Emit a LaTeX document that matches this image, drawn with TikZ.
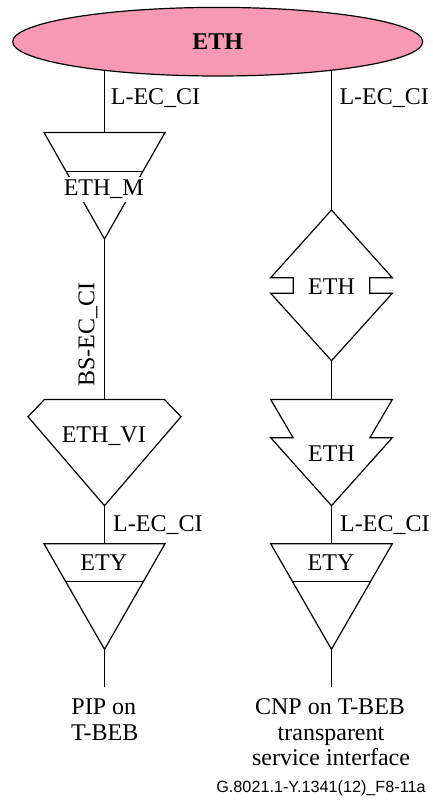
\documentclass[tikz,border=0pt]{standalone}
\usepackage{fontspec}
\setmainfont{Liberation Serif}
\newfontfamily\footfont{Liberation Sans}
\usetikzlibrary{shapes.geometric}
\definecolor{ethpink}{RGB}{247,153,181}
\begin{document}
\begin{tikzpicture}[x=1pt,y=-1pt,
  shapeline/.style={line width=1.2pt, line join=miter},
  conn/.style={line width=1.2pt},
  lbl/.style={font=\fontsize{24}{26}\selectfont, inner sep=0pt, anchor=base},
  lblw/.style={lbl, anchor=base west},
  footlbl/.style={font=\footfont\fontsize{16.2}{18}\selectfont, inner sep=0pt, anchor=base}]
\useasboundingbox (0,0) rectangle (433,800);

% top ellipse
\node[ellipse, draw, line width=1.2pt, fill=ethpink, minimum width=410pt, minimum height=68.6pt, inner sep=0pt,
      font=\fontsize{24}{26}\selectfont\bfseries] (eth) at (217.7,41.7) {ETH};
\coordinate (ethL) at (104.5,70.2);
\coordinate (ethR) at (331.5,70.2);

% ---------- left column ----------
% ETH_M
\coordinate (mTop) at (104.5,132.5);
\coordinate (mApex) at (104.5,239);
\draw[shapeline] (44,132.5) -- (165,132.5) -- (mApex) -- cycle;
\draw[shapeline] (66.3,171.7) -- (142.7,171.7);
\node[lbl, fill=white, inner sep=1.5pt, text height=17pt, text depth=5pt] (ethm) at (103.8,195) {ETH\_M};

% ETH_VI
\coordinate (viTop) at (104.5,399.5);
\coordinate (viApex) at (104.5,505.7);
\draw[shapeline] (44.5,399.5) -- (164.5,399.5) -- (181,416.7) -- (viApex) -- (28,416.7) -- cycle;
\node[lbl] (ethvi) at (103.8,442.7) {ETH\_VI};

% ETY left
\coordinate (etyLTop) at (104.5,543.7);
\coordinate (etyLApex) at (104.5,649.3);
\coordinate (etyLEnd) at (104.5,687.3);
\draw[shapeline] (44,543.7) -- (165,543.7) -- (etyLApex) -- cycle;
\draw[shapeline] (65.8,581.7) -- (143.2,581.7);
\node[lbl] (etyl) at (103.8,570) {ETY};

% connectors left
\draw[conn] (ethL) -- (mTop);
\draw[conn] (mApex) -- (viTop);
\draw[conn] (viApex) -- (etyLTop);
\draw[conn] (etyLApex) -- (etyLEnd);

% labels left
\node[lblw] (lecl1) at (110.7,104) {L-EC\_CI};
\node[lbl, anchor=base west, rotate=90] (bsec) at (94.3,387) {BS-EC\_CI};
\node[lblw] (lecl2) at (113,531) {L-EC\_CI};
\node[lbl] (pip1) at (103.8,714) {PIP on};
\node[lbl] (pip2) at (104.8,740) {T-BEB};

% ---------- right column ----------
% ETH diamond
\coordinate (dTop) at (331.5,210);
\coordinate (dBot) at (331.5,360.7);
\draw[shapeline] (dTop) -- (270.7,277.7) -- (293.3,277.7) -- (293.3,293.3) -- (270.7,293.3) -- (dBot)
  -- (392.3,293.3) -- (369.7,293.3) -- (369.7,277.7) -- (392.3,277.7) -- cycle;
\node[lbl] (ethd) at (331.5,294) {ETH};

% ETH adaptation (zigzag)
\coordinate (aTop) at (331.5,399.5);
\coordinate (aApex) at (331.5,505.7);
\draw[shapeline] (270.7,399.5) -- (392.3,399.5) -- (369.9,437.7) -- (392.3,437.7) -- (aApex)
  -- (270.7,437.7) -- (293.1,437.7) -- cycle;
\node[lbl] (etha) at (331.5,461) {ETH};

% ETY right
\coordinate (etyRTop) at (331.5,543.7);
\coordinate (etyRApex) at (331.5,649.3);
\coordinate (etyREnd) at (331.5,687.3);
\draw[shapeline] (270.7,543.7) -- (392.3,543.7) -- (etyRApex) -- cycle;
\draw[shapeline] (292.6,581.7) -- (370.4,581.7);
\node[lbl] (etyr) at (331,570) {ETY};

% connectors right
\draw[conn] (ethR) -- (dTop);
\draw[conn] (dBot) -- (aTop);
\draw[conn] (aApex) -- (etyRTop);
\draw[conn] (etyRApex) -- (etyREnd);

% labels right
\node[lblw] (lecr1) at (339.3,104) {L-EC\_CI};
\node[lblw] (lecr2) at (340,531) {L-EC\_CI};
\node[lbl] (cnp1) at (330,714) {CNP on T-BEB};
\node[lbl] (cnp2) at (331,740) {transparent};
\node[lbl] (cnp3) at (331,765.5) {service interface};

% footer
\node[footlbl] (foot) at (321,792.5) {G.8021.1-Y.1341(12)\_F8-11a};
\end{tikzpicture}
\end{document}
